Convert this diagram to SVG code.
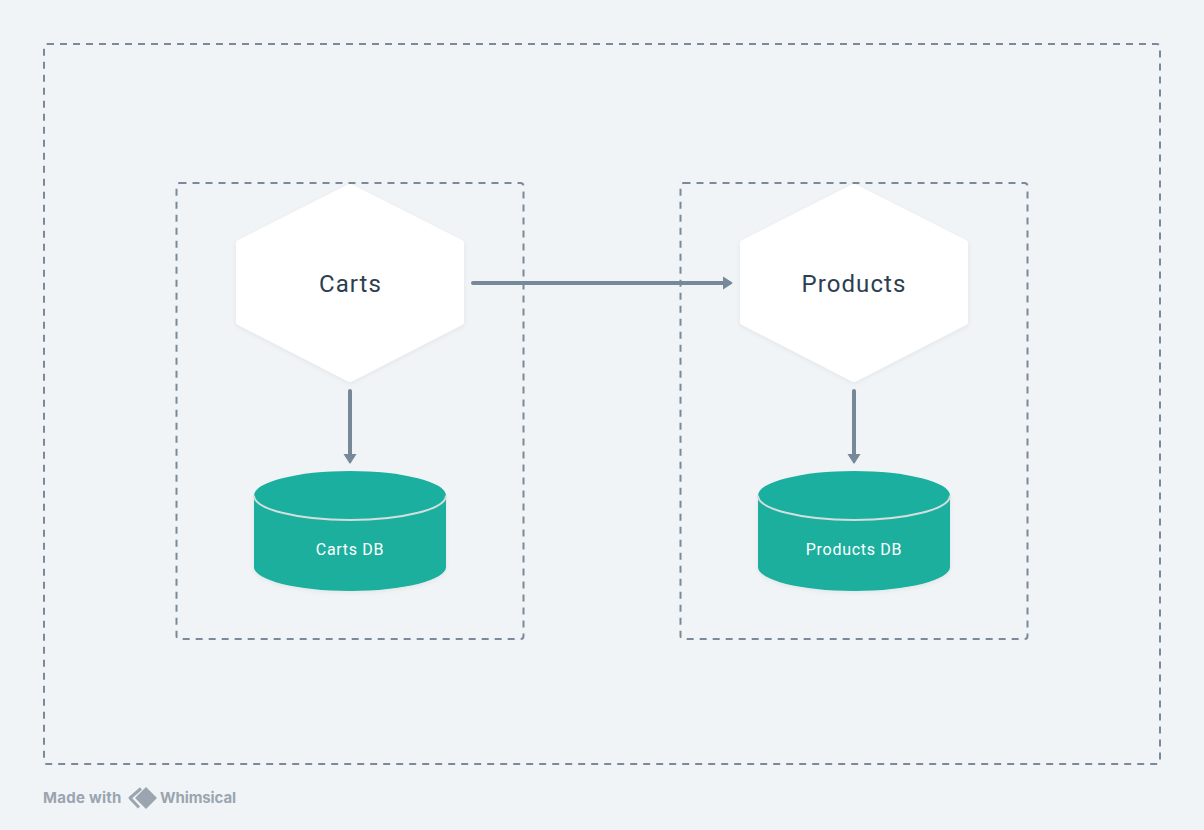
<svg xmlns="http://www.w3.org/2000/svg" width="1204" height="830" viewBox="0 0 1204 830">
<style>
.box{fill:none;stroke:#7b8a9a;stroke-width:2;stroke-dasharray:7 6;stroke-linecap:butt}
.hex{fill:#fff;stroke:#fff;stroke-width:6;stroke-linejoin:round;filter:url(#sh)}
.cyl{fill:#1aaf9e;filter:url(#sh)}
.lid{fill:#1aaf9e}
.rim{fill:none;stroke:#d3dfdd;stroke-width:2}
.lbl{font-family:Roboto,"Liberation Sans",sans-serif;text-anchor:middle}
.big{font-size:24px;fill:#2d3e50;letter-spacing:1.1px}
.small{font-size:16px;fill:#fff;letter-spacing:.7px}
.conn{fill:none;stroke:#778899;stroke-width:4;stroke-linecap:round;marker-end:url(#arrow)}
.brand{font-family:Inter,"Liberation Sans",sans-serif;font-size:15px;font-weight:700;fill:#9aa5b0}
</style>
<defs>
<marker id="arrow" markerUnits="userSpaceOnUse" markerWidth="16" markerHeight="16" refX="1" refY="8" orient="auto">
<path d="M1 1.500L10 7.200Q11 8 10 8.800L1 14.500Z" fill="#778899"/>
</marker>
<filter id="sh" x="-10%" y="-10%" width="120%" height="120%"><feDropShadow dx="0" dy="1.500" stdDeviation="2" flood-color="#000" flood-opacity=".06"/></filter>
</defs>
<rect width="1204" height="830" fill="#f0f4f7"/>
<g id="outer-boundary"><rect class="box" x="44" y="44" width="1116" height="720" rx="3"/></g>
<g id="carts-boundary"><rect class="box" x="176.500" y="183" width="347" height="456" rx="3"/></g>
<g id="products-boundary"><rect class="box" x="680.500" y="183" width="347" height="456" rx="3"/></g>
<g id="carts">
<path class="hex" d="M350 187L461 243V322L350 379L239 322V243Z"/>
<text class="lbl big" x="350.500" y="292">Carts</text>
</g>
<g id="products">
<path class="hex" d="M854 187L965 243V322L854 379L743 322V243Z"/>
<text class="lbl big" x="854" y="292">Products</text>
</g>
<g id="carts-db">
<path class="cyl" d="M254 495V567C254 580 297 591 350 591S446 580 446 567V495Z"/>
<ellipse class="lid" cx="350" cy="495.500" rx="96" ry="24.500"/>
<path class="rim" d="M254 495.500C254 509 297 520 350 520S446 509 446 495.500"/>
<text class="lbl small" x="350" y="555">Carts DB</text>
</g>
<g id="products-db">
<path class="cyl" d="M758 495V567C758 580 801 591 854 591S950 580 950 567V495Z"/>
<ellipse class="lid" cx="854" cy="495.500" rx="96" ry="24.500"/>
<path class="rim" d="M758 495.500C758 509 801 520 854 520S950 509 950 495.500"/>
<text class="lbl small" x="854" y="555">Products DB</text>
</g>
<g id="connectors">
<path class="conn" d="M473 283H723"/>
<path class="conn" d="M350 391V454"/>
<path class="conn" d="M854 391V454"/>
</g>
<g id="watermark">
<text class="brand" x="43" y="803" letter-spacing=".25">Made with</text>
<path d="M141 788.500L130 798L139 807.500" fill="none" stroke="#9aa5b0" stroke-width="3" stroke-linejoin="round"/>
<path d="M146 787L157 798L146 809L135 798Z" fill="#9aa5b0"/>
<text class="brand" x="160" y="803" letter-spacing="-.1">Whimsical</text>
</g>
</svg>
